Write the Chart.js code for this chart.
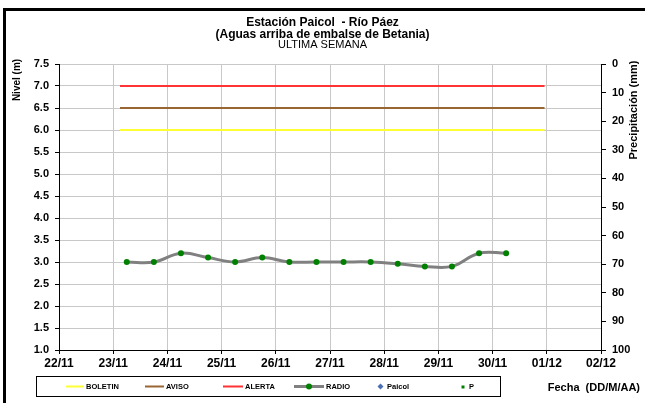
<!DOCTYPE html>
<html>
<head>
<meta charset="utf-8">
<script src="https://cdn.jsdelivr.net/npm/chart.js@4.4.0/dist/chart.umd.min.js"></script>
<style>
  html, body { margin: 0; padding: 0; background: #fff; overflow: hidden; }
  #wrap { width: 645px; height: 403px; }
</style>
</head>
<body>
<div id="wrap"><canvas id="chart" width="645" height="403"></canvas></div>
<script>
// Etiquetas del eje X (días)
const dayLabels = ['22/11', '23/11', '24/11', '25/11', '26/11', '27/11', '28/11', '29/11', '30/11', '01/12', '02/12'];

// Serie RADIO (nivel en m), una lectura cada 12 horas
const radioTimes = [
  '23/11 06:00', '23/11 18:00', '24/11 06:00', '24/11 18:00', '25/11 06:00',
  '25/11 18:00', '26/11 06:00', '26/11 18:00', '27/11 06:00', '27/11 18:00',
  '28/11 06:00', '28/11 18:00', '29/11 06:00', '29/11 18:00', '30/11 06:00'
];
const radioLevels = [3.0, 3.0, 3.2, 3.1, 3.0, 3.1, 3.0, 3.0, 3.0, 3.0, 2.96, 2.9, 2.9, 3.2, 3.2];

// Umbrales (m)
const boletinLevel = 6.0;
const avisoLevel = 6.5;
const alertaLevel = 7.0;
const thresholdTimes = ['23/11 03:00', '30/11 23:00'];

// Series sin datos en la semana
const paicolLevels = [];
const precipitation = [];

const FONT = 'Liberation Sans, Arial, sans-serif';

// Convierte 'DD/MM hh:mm' en días desde 22/11 00:00
function toDays(s) {
  const [d, t] = s.split(' ');
  const [dd, mm] = d.split('/').map(Number);
  const [hh, mi] = t.split(':').map(Number);
  const base = mm === 11 ? dd - 22 : dd + 8;
  return base + (hh + mi / 60) / 24;
}

function thresholdLine(level) {
  return thresholdTimes.map(t => ({ x: toDays(t), y: level }));
}

const legendItems = [
  { text: 'BOLETIN', kind: 'line', color: '#ffff33', x0: 66, x1: 84 },
  { text: 'AVISO', kind: 'line', color: '#996633', x0: 145, x1: 164 },
  { text: 'ALERTA', kind: 'line', color: '#ff3333', x0: 223, x1: 243 },
  { text: 'RADIO', kind: 'radio', color: '#808080', x0: 294, x1: 324 },
  { text: 'Paicol', kind: 'diamond', color: '#4a6fb5', x0: 376, x1: 385 },
  { text: 'P', kind: 'square', color: '#008000', x0: 458, x1: 467 }
];

const decorPlugin = {
  id: 'decor',
  beforeDraw(chart) {
    const c = chart.ctx;
    c.save();
    c.fillStyle = '#fff';
    c.fillRect(0, 0, chart.width, chart.height);
    c.restore();
  },
  afterDraw(chart) {
    const c = chart.ctx;
    c.save();
    // marco exterior
    c.fillStyle = '#000';
    c.fillRect(3, 8, 642, 3);
    c.fillRect(3, 8, 3, 395);

    // títulos de ejes
    c.textAlign = 'center';
    c.textBaseline = 'middle';
    c.font = 'bold 10px ' + FONT;
    c.save();
    c.translate(17, 80);
    c.rotate(-Math.PI / 2);
    c.fillText('Nivel (m)', 0, 0);
    c.restore();
    c.font = 'bold 11px ' + FONT;
    c.save();
    c.translate(634, 110);
    c.rotate(-Math.PI / 2);
    c.fillText('Precipitación (mm)', 0, 0);
    c.restore();

    // leyenda
    c.strokeStyle = '#000';
    c.lineWidth = 1;
    c.strokeRect(36.5, 376.5, 464, 20);
    const ly = 386.5;
    c.font = 'bold 7.5px ' + FONT;
    c.textAlign = 'left';
    legendItems.forEach(it => {
      const cx = (it.x0 + it.x1) / 2;
      if (it.kind === 'line' || it.kind === 'radio') {
        c.strokeStyle = it.color;
        c.lineWidth = it.kind === 'radio' ? 3 : 2;
        c.beginPath();
        c.moveTo(it.x0, ly);
        c.lineTo(it.x1, ly);
        c.stroke();
        if (it.kind === 'radio') {
          c.fillStyle = '#008000';
          c.beginPath();
          c.arc(cx, ly, 3, 0, Math.PI * 2);
          c.fill();
        }
      } else if (it.kind === 'diamond') {
        c.fillStyle = it.color;
        c.beginPath();
        c.moveTo(cx, ly - 3);
        c.lineTo(cx + 3, ly);
        c.lineTo(cx, ly + 3);
        c.lineTo(cx - 3, ly);
        c.closePath();
        c.fill();
      } else {
        c.fillStyle = it.color;
        c.fillRect(cx - 1, ly - 1, 3, 3);
      }
      c.fillStyle = '#000';
      c.fillText(it.text, it.x1 + 2, ly);
    });

    c.font = 'bold 11px ' + FONT;
    c.textAlign = 'right';
    c.fillText('Fecha  (DD/M/AA)', 640, 388);
    c.restore();
  }
};

new Chart(document.getElementById('chart'), {
  type: 'line',
  data: {
    datasets: [
      { label: 'BOLETIN', data: thresholdLine(boletinLevel), borderColor: '#ffff33', borderWidth: 2, pointRadius: 0, yAxisID: 'y' },
      { label: 'AVISO', data: thresholdLine(avisoLevel), borderColor: '#996633', borderWidth: 2, pointRadius: 0, yAxisID: 'y' },
      { label: 'ALERTA', data: thresholdLine(alertaLevel), borderColor: '#ff3333', borderWidth: 2, pointRadius: 0, yAxisID: 'y' },
      {
        label: 'RADIO',
        data: radioTimes.map((t, i) => ({ x: toDays(t), y: radioLevels[i] })),
        borderColor: '#808080',
        borderWidth: 3,
        tension: 0.4,
        pointRadius: 3,
        pointBorderWidth: 0,
        pointBackgroundColor: '#008000',
        yAxisID: 'y'
      },
      { label: 'Paicol', data: paicolLevels, borderColor: '#4a6fb5', showLine: false, pointStyle: 'rectRot', yAxisID: 'y' },
      { label: 'P', data: precipitation, borderColor: '#008000', showLine: false, pointStyle: 'rect', yAxisID: 'y2' }
    ]
  },
  options: {
    responsive: false,
    devicePixelRatio: 1,
    animation: false,
    layout: { padding: 0 },
    plugins: {
      legend: { display: false },
      tooltip: { enabled: false },
      title: {
        display: true,
        text: ['Estación Paicol  - Río Páez', '(Aguas arriba de embalse de Betania)'],
        color: '#000',
        font: { family: FONT, size: 12, weight: 'bold', lineHeight: 1.05 },
        padding: { top: 16, bottom: 0 }
      },
      subtitle: {
        display: true,
        text: 'ULTIMA SEMANA',
        color: '#000',
        font: { family: FONT, size: 11, weight: 'normal', lineHeight: 0.6 },
        padding: { top: 0, bottom: 16.2 }
      }
    },
    scales: {
      x: {
        type: 'linear',
        min: 0,
        max: 10,
        afterFit(s) { s.height = 53; },
        afterBuildTicks(s) { s.ticks = dayLabels.map((_, i) => ({ value: i })); },
        ticks: {
          color: '#000',
          font: { family: FONT, size: 12, weight: 'bold' },
          padding: 2,
          maxRotation: 0,
          callback: v => dayLabels[v]
        },
        grid: { color: '#c8c8c8', tickColor: '#000', tickLength: 4 },
        border: { color: '#000', width: 1 }
      },
      y: {
        position: 'left',
        min: 1,
        max: 7.5,
        afterFit(s) { s.width = 59; },
        ticks: {
          stepSize: 0.5,
          color: '#000',
          font: { family: FONT, size: 11, weight: 'bold' },
          padding: 6,
          callback: v => v.toFixed(1)
        },
        grid: { color: '#c8c8c8', tickColor: '#000', tickLength: 4 },
        border: { color: '#000', width: 1 }
      },
      y2: {
        position: 'right',
        min: 0,
        max: 100,
        reverse: true,
        afterFit(s) { s.width = 44; },
        ticks: {
          stepSize: 10,
          color: '#000',
          font: { family: FONT, size: 11, weight: 'bold' },
          padding: 6
        },
        grid: { drawOnChartArea: false, tickColor: '#000', tickLength: 5 },
        border: { color: '#000', width: 1 }
      }
    }
  },
  plugins: [decorPlugin]
});
</script>
</body>
</html>
